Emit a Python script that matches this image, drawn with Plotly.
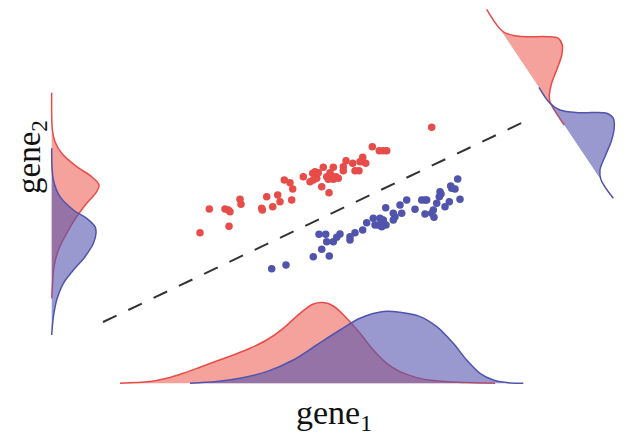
import numpy as np
import plotly.graph_objects as go

# ---- scatter data (gene1, gene2) ----
red_g1 = [431.7, 372.3, 379.3, 383.3, 386.7, 362.7, 360, 365.7, 346, 352.7, 343.3, 343.3, 355, 359,
          333.3, 323.3, 315, 318.3, 312.7, 330, 331.7, 336, 338.3, 326.7, 328.3, 333.3, 303.3, 310,
          313.3, 316.7, 321.7, 329, 284.3, 290, 292.7, 266.7, 277.7, 280, 291.7, 261.7, 262.3, 272.7,
          240, 241, 225, 228.3, 230, 209.3, 229, 200]
red_g2 = [127.3, 146.7, 150.7, 150.7, 150.7, 157.3, 161.7, 163.3, 160.7, 163.3, 166.7, 170.7, 170.7, 170.7,
          167.3, 167.3, 171.7, 172.7, 173.3, 172.7, 176, 176.7, 178.3, 176.7, 179.3, 179.3, 176.7, 181.7,
          180, 178.3, 186.7, 192.7, 180, 182.7, 189, 196.7, 195, 201.7, 200, 208.3, 210, 206.7,
          199.3, 204.3, 209, 210, 211.7, 209, 226.3, 232.7]
blue_g1 = [457.7, 450.7, 455, 451.7, 440, 441, 439.3, 436.7, 445, 449.3, 460, 421.7, 425, 426.7, 433.3,
           431.7, 425, 434, 415, 406.7, 400, 401.7, 385.7, 393.3, 395, 393.3, 373.3, 380, 383.3, 386,
           378.3, 375, 381.7, 366.7, 362.7, 355, 350, 350, 340, 336.7, 333.3, 326.7, 325.7, 319, 321.7,
           313.3, 329.3, 286, 271.7]
blue_g2 = [179, 186, 189, 188.3, 191.7, 194, 196.7, 203.3, 206.7, 201.7, 199.3, 200, 200, 200, 210,
           213.3, 214, 217.3, 209.3, 200, 205, 213.3, 207.7, 213.3, 216.7, 220, 218.3, 218.3, 220, 225,
           225, 225, 226.7, 222.7, 230, 232.7, 236.7, 240, 234, 237.3, 241.7, 241.7, 234.3, 234.3, 249.3,
           256.7, 256, 265, 268.7]

# decision boundary endpoints
bound_g1 = [103, 530]
bound_g2 = [322, 119]

# ---- marginal densities (positions, heights) ----
bot_red_x = [120, 150, 166.7, 183.3, 200, 216.7, 233.3, 250, 266.7, 283.3, 300, 313.3, 323.3, 333.3,
             346.7, 360, 373.3, 386.7, 400, 416.7, 433.3, 466.7, 495]
bot_red_h = [0, 1.7, 5, 10, 16, 22.3, 28.3, 35, 43.3, 55, 70, 79.3, 80.7, 77.3, 65, 50, 33.3, 20, 11.7,
             5.7, 2.7, 0.7, 0]
bot_blue_x = [190, 216.7, 240, 266.7, 293.3, 316.7, 340, 360, 383.3, 400, 420, 436.7, 453.3, 466.7,
              480, 493.3, 506.7, 523.3]
bot_blue_h = [0, 1.7, 5, 11.7, 23.3, 38.3, 53.3, 65, 71.7, 71, 66.7, 56.7, 40, 23.3, 10, 3.3, 0.7, 0]

left_red_y = [92.7, 130, 141.7, 153.3, 166.7, 176.7, 185, 191.7, 203.3, 216.7, 233.3, 250, 266.7, 286.7, 298.3]
left_red_h = [0, 0.7, 3.3, 10, 25, 40, 47.3, 45, 35, 25, 15, 6.7, 2.3, 0.7, 0]
left_blue_y = [148.3, 180, 196.7, 210, 218.3, 226.7, 233.3, 243.3, 256.7, 270, 283.3, 300, 316.7, 335]
left_blue_h = [0, 1.7, 8.3, 21.7, 35, 43.3, 44.3, 41.7, 33.3, 21.7, 11.7, 5, 1.7, 0]

proj_red_t = [9.3, 32.3, 40.4, 45.7, 51.7, 57.1, 63.6, 71, 80.6, 88.8, 96.9, 102.2, 125]
proj_red_h = [0, 1.3, 10.2, 20.9, 35, 43.9, 43.4, 37.3, 24.6, 12.9, 4.4, 1.2, 0]
proj_blue_t = [87.3, 103.4, 112.1, 121.4, 131.4, 137.6, 144.3, 153.5, 163.7, 172, 180, 198.3]
proj_blue_h = [0, 0.3, 4.9, 20.2, 42.3, 45, 41.1, 31.4, 16.4, 4.7, 0, 0]

# ---- styling ----
RED = "rgb(232,76,72)"
BLUE = "rgb(80,84,172)"
RED_FILL = "rgba(235,75,65,0.52)"
BLUE_FILL = "rgba(85,85,175,0.6)"
BOT_BASE = 383.3
LEFT_BASE = 51.7
P0 = (486.7, 9.3)
P_SLOPE = 0.67
U = (0.903, -0.429)
OFF = 8  # page body margin in the browser

fig = go.Figure()


def add_area(xs, ys, line_c, fill_c):
    fig.add_trace(go.Scatter(x=xs, y=ys, mode="lines", fill="toself", fillcolor=fill_c,
                             line=dict(color=line_c, width=1.5, shape="spline", smoothing=1.0),
                             hoverinfo="skip", showlegend=False))


# bottom marginal
add_area(bot_red_x, [BOT_BASE - h for h in bot_red_h], RED, RED_FILL)
add_area(bot_blue_x, [BOT_BASE - h for h in bot_blue_h], BLUE, BLUE_FILL)
# left marginal
add_area([LEFT_BASE + h for h in left_red_h], left_red_y, RED, RED_FILL)
add_area([LEFT_BASE + h for h in left_blue_h], left_blue_y, BLUE, BLUE_FILL)


# projected density (top right)
def proj(ts, hs):
    xs, ys = [], []
    for t, h in zip(ts, hs):
        bx = P0[0] + (t - P0[1]) * P_SLOPE
        xs.append(bx + U[0] * h)
        ys.append(t + U[1] * h)
    return xs, ys


rx, ry = proj(proj_red_t, proj_red_h)
add_area(rx, ry, RED, RED_FILL)
bx_, by_ = proj(proj_blue_t, proj_blue_h)
add_area(bx_, by_, BLUE, BLUE_FILL)

# boundary
fig.add_trace(go.Scatter(x=bound_g1, y=bound_g2, mode="lines",
                         line=dict(color="#333333", width=2, dash="15px,13px"),
                         hoverinfo="skip", showlegend=False))

# points
fig.add_trace(go.Scatter(x=red_g1, y=red_g2, mode="markers",
                         marker=dict(color=RED, size=7.5), showlegend=False))
fig.add_trace(go.Scatter(x=blue_g1, y=blue_g2, mode="markers",
                         marker=dict(color=BLUE, size=7.5), showlegend=False))

font = dict(family="Liberation Serif, Times New Roman, serif", size=34, color="#111111")
fig.add_annotation(x=334, y=415, text="gene<sub>1</sub>", showarrow=False, font=font,
                   xanchor="center", yanchor="middle", borderpad=0)
fig.add_annotation(x=31, y=157, text="gene<sub>2</sub>", showarrow=False,
                   font=dict(font, size=33),
                   textangle=-90, xanchor="center", yanchor="middle", borderpad=0)

fig.update_layout(width=634 - OFF, height=439 - OFF, margin=dict(l=0, r=0, t=0, b=0),
                  paper_bgcolor="white", plot_bgcolor="white",
                  xaxis=dict(range=[OFF, 634], visible=False, fixedrange=True),
                  yaxis=dict(range=[439, OFF], visible=False, fixedrange=True))

fig.write_html("out.html")
